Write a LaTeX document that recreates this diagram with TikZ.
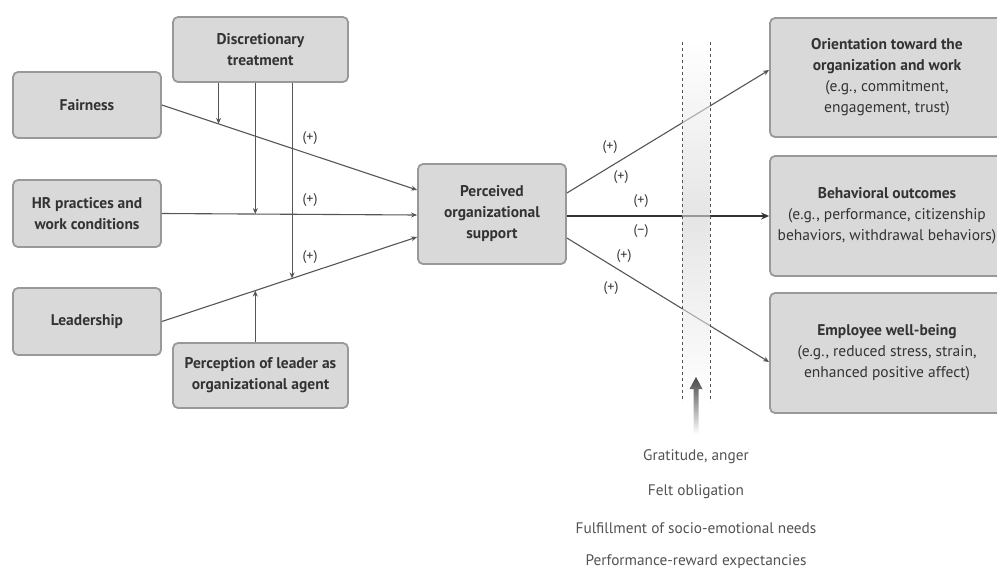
\documentclass[tikz,border=0pt]{standalone}
\usepackage{fontspec}
\setmainfont{PT Sans}
\usetikzlibrary{arrows.meta,calc}
\definecolor{boxfill}{HTML}{D9D9D9}
\definecolor{boxedge}{HTML}{999999}
\definecolor{ink}{HTML}{333333}
\definecolor{linecol}{HTML}{555555}
\tikzset{
  box/.style={draw=boxedge, fill=boxfill, line width=1.8pt, rounded corners=5pt,
    align=center, text=ink, font=\fontsize{15.5}{21}\selectfont, inner sep=2pt},
  link/.style={draw=linecol, line width=1.1pt, -{Stealth[length=6pt,width=5pt]}},
  mainlink/.style={draw=ink, line width=2.4pt, -{Stealth[length=8pt,width=7pt]}},
  sign/.style={text=ink, font=\fontsize{14}{16}\selectfont, inner sep=0pt},
  note/.style={text=ink!85, font=\fontsize{15.3}{17}\selectfont, inner sep=0pt},
}
\begin{document}
\begin{tikzpicture}[x=1pt, y=-1pt]
\useasboundingbox (0,0) rectangle (997,574);
\clip (0,0) rectangle (997,574);

% mediating mechanisms band (shaded backdrop)
\shade[top color=white, bottom color=gray!40] (682,42) rectangle (710,216);
\shade[top color=gray!40, bottom color=white] (682,216) rectangle (710,402);

% antecedents and moderators
\node[box, minimum width=175pt, minimum height=65pt] (disc) at (260.5,49.5) {\bfseries Discretionary\\\bfseries treatment};
\node[box, minimum width=148pt, minimum height=66pt] (fair) at (87,105) {\bfseries Fairness};
\node[box, minimum width=148pt, minimum height=67pt] (hr) at (87,213.5) {\bfseries HR practices and\\\bfseries work conditions};
\node[box, minimum width=148pt, minimum height=67pt] (lead) at (87,321.5) {\bfseries Leadership};
\node[box, minimum width=175pt, minimum height=65pt] (perc) at (260.5,375.5) {\bfseries Perception of leader as\\\bfseries organizational agent};

% central construct
\node[box, minimum width=148pt, minimum height=100pt] (pos) at (492,214) {\bfseries Perceived\\\bfseries organizational\\\bfseries support};

% outcomes
\node[box, minimum width=234pt, minimum height=119pt] (orient) at (887,77.5) {\bfseries Orientation toward the\\\bfseries organization and work\\(e.g., commitment,\\engagement, trust)};
\node[box, minimum width=234pt, minimum height=120pt] (behav) at (887,216) {\bfseries Behavioral outcomes\\(e.g., performance, citizenship\\behaviors, withdrawal behaviors)};
\node[box, minimum width=234pt, minimum height=120pt] (well) at (887,353) {\bfseries Employee well-being\\(e.g., reduced stress, strain,\\enhanced positive affect)};

% antecedent paths into POS
\draw[link] (fair.east) -- coordinate[pos=0.222] (mF) ([yshift=24pt]pos.west);
\draw[link] (hr.east) -- coordinate[pos=0.366] (mH) ([yshift=-1pt]pos.west);
\draw[link] (lead.east) -- coordinate[pos=0.366] (mP) coordinate[pos=0.51] (mL) ([yshift=-23pt]pos.west);

% moderating paths
\draw[link] (disc.south -| mF) -- (mF);
\draw[link] (disc.south -| mH) -- (mH);
\draw[link] (disc.south -| mL) -- (mL);
\draw[link] (perc.north -| mP) -- (mP);

\node[sign] (s1) at (310,138) {(+)};
\node[sign] (s2) at (310,200) {(+)};
\node[sign] (s3) at (310,257) {(+)};

% outcome paths
\draw[link] ([yshift=21pt]pos.east) -- ([yshift=7.5pt]orient.west);
\draw[mainlink] (pos.east |- behav.west) -- (behav.west);
\draw[link] ([yshift=-24pt]pos.east) -- ([yshift=-9pt]well.west);

\node[sign] (s4) at (610,147) {(+)};
\node[sign] (s5) at (621,177) {(+)};
\node[sign] (s6) at (641,201) {(+)};
\node[sign] (s7) at (641,231) {(−)};
\node[sign] (s8) at (624,256) {(+)};
\node[sign] (s9) at (611,288) {(+)};

% haze over the band, so paths fade as they cross it
\fill[white, opacity=0.5] (682,42) rectangle (710,402);
\draw[dashed, draw=linecol, line width=0.8pt] (682,42) -- (682,402);
\draw[dashed, draw=linecol, line width=0.8pt] (710,42) -- (710,402);

% upward arrow from mechanisms
\shade[top color=ink!90, bottom color=white]
  (693.5,434) -- (693.5,389) -- (689.5,389) -- (696,377) -- (702.5,389) -- (698.5,389) -- (698.5,434) -- cycle;

\node[note] (m1) at (696,457) {Gratitude, anger};
\node[note] (m2) at (696,492) {Felt obligation};
\node[note] (m3) at (696,528) {Fulfillment of socio-emotional needs};
\node[note] (m4) at (696,562) {Performance-reward expectancies};
\end{tikzpicture}
\end{document}
